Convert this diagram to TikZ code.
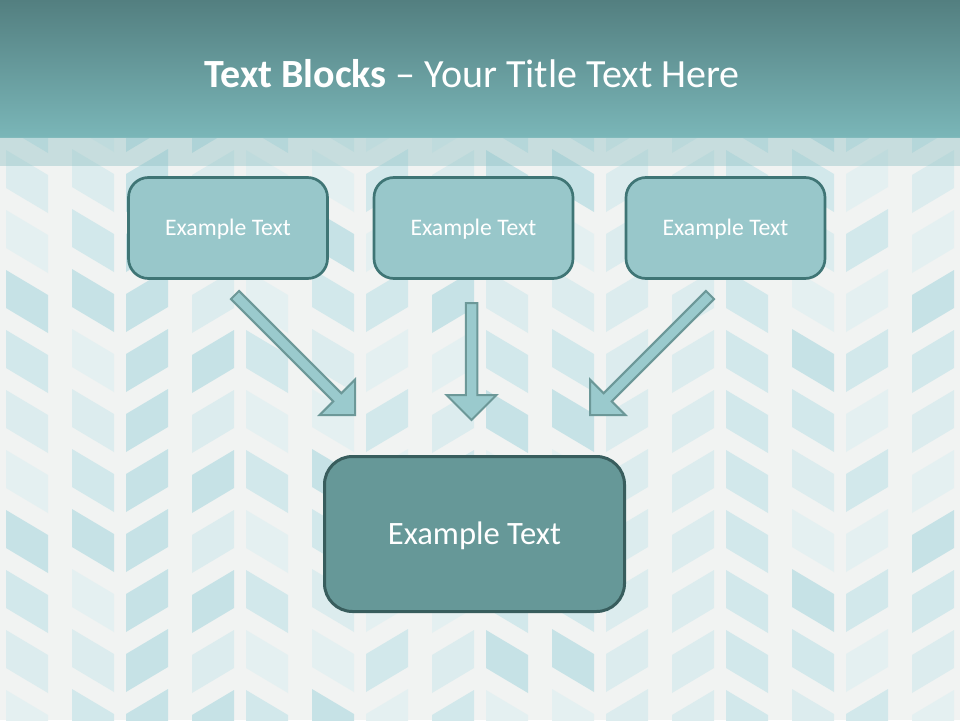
\documentclass[tikz,border=0pt]{standalone}
\usepackage{fontspec}
\setmainfont{Carlito}
\usetikzlibrary{calc}
\definecolor{bgc}{HTML}{F1F3F2}
\definecolor{hdtop}{HTML}{537F80}
\definecolor{hdbot}{HTML}{7AB6B8}
\definecolor{bandc}{HTML}{8EC0C3}
\definecolor{boxfill}{HTML}{98C7CA}
\definecolor{boxline}{HTML}{3F7575}
\definecolor{bigfill}{HTML}{669898}
\definecolor{bigline}{HTML}{385D5D}
\definecolor{arrfill}{HTML}{9ACACD}
\definecolor{arrline}{HTML}{6C9898}
\definecolor{pat0}{HTML}{C6E2E6}
\definecolor{pat1}{HTML}{D2E8EB}
\definecolor{pat2}{HTML}{DCECEE}
\definecolor{pat3}{HTML}{E4F0F1}
\newcommand{\blockarr}[2]{%
  \coordinate (#1b) at ($(#2)!25pt!(#1)$);
  \draw[arrowshape]
    ($(#1)!5.75pt!90:(#2)$) -- ($(#1b)!5.75pt!90:(#2)$) -- ($(#1b)!25pt!90:(#2)$)
    -- (#2) -- ($(#1b)!25pt!-90:(#2)$) -- ($(#1b)!5.75pt!-90:(#2)$)
    -- ($(#1)!5.75pt!-90:(#2)$) -- cycle;}
\begin{document}
\begin{tikzpicture}[x=1pt,y=-1pt,
  smallbox/.style={draw=boxline, line width=2.7pt, fill=boxfill, rounded corners=20pt,
    minimum width=199pt, minimum height=101pt, inner sep=0pt, text=white,
    font=\fontsize{23.7}{28}\selectfont, text height=15.2pt, text depth=0pt},
  bigbox/.style={draw=bigline, line width=3pt, fill=bigfill, rounded corners=28pt,
    minimum width=300pt, minimum height=155pt, inner sep=0pt, text=white,
    font=\fontsize{32.6}{38}\selectfont, text height=21pt, text depth=0pt},
  arrowshape/.style={draw=arrline, line width=2pt, fill=arrfill, line join=miter}]
\useasboundingbox (0,0) rectangle (960,720);
\fill[bgc] (0,0) rectangle (960,720);
% background chevron pattern: downward chevrons
\foreach \j in {0,...,3} {
  \foreach \k in {0,...,12} {
    \pgfmathsetmacro{\cx}{120+240*\j}
    \pgfmathsetmacro{\yv}{54+60*\k}
    \pgfmathtruncatemacro{\la}{mod(\j*5+\k*3+\j*\k*2,4)}
    \pgfmathtruncatemacro{\lb}{mod(\j*5+\k*3+\j*\k*2+\k,4)}
    \fill[pat\la] (\cx-48,\yv-25) -- (\cx-6,\yv) -- (\cx-6,\yv+38) -- (\cx-48,\yv+13) -- cycle;
    \fill[pat\lb] (\cx+6,\yv) -- (\cx+48,\yv-25) -- (\cx+48,\yv+13) -- (\cx+6,\yv+38) -- cycle;
  }
}
% upward chevrons
\foreach \j in {0,...,4} {
  \foreach \k in {0,...,11} {
    \pgfmathsetmacro{\cx}{240*\j}
    \pgfmathsetmacro{\yv}{90+60*\k}
    \pgfmathtruncatemacro{\la}{mod(\j*7+\k*5+\j*\k+1,4)}
    \pgfmathtruncatemacro{\lb}{mod(\j*7+\k*5+\j*\k+1+\j,4)}
    \fill[pat\la] (\cx-48,\yv+25) -- (\cx-6,\yv) -- (\cx-6,\yv+38) -- (\cx-48,\yv+63) -- cycle;
    \fill[pat\lb] (\cx+6,\yv) -- (\cx+48,\yv+25) -- (\cx+48,\yv+63) -- (\cx+6,\yv+38) -- cycle;
  }
}
% header
\shade[top color=hdtop, bottom color=hdbot] (0,0) rectangle (960,137);
\fill[bandc, opacity=0.42] (0,137) rectangle (960,166);
\node[anchor=base, text=white, font=\fontsize{40}{46}\selectfont, inner sep=0pt] (title)
  at (472,87.3) {\textbf{Text Blocks} – Your Title Text Here};
% boxes
\node[smallbox] (b1) at (228,228) {Example Text};
\node[smallbox] (b2) at (473.5,228) {Example Text};
\node[smallbox] (b3) at (725.5,228) {Example Text};
\node[bigbox] (big) at (474.5,534) {Example Text};
% block arrows
\coordinate (aLt) at (235,295);
\coordinate (aLp) at (355,415);
\coordinate (aMt) at (471.5,303);
\coordinate (aMp) at (471.5,420);
\coordinate (aRt) at (710,295);
\coordinate (aRp) at (590,415);
\blockarr{aLt}{aLp}
\blockarr{aMt}{aMp}
\blockarr{aRt}{aRp}
\end{tikzpicture}
\end{document}
